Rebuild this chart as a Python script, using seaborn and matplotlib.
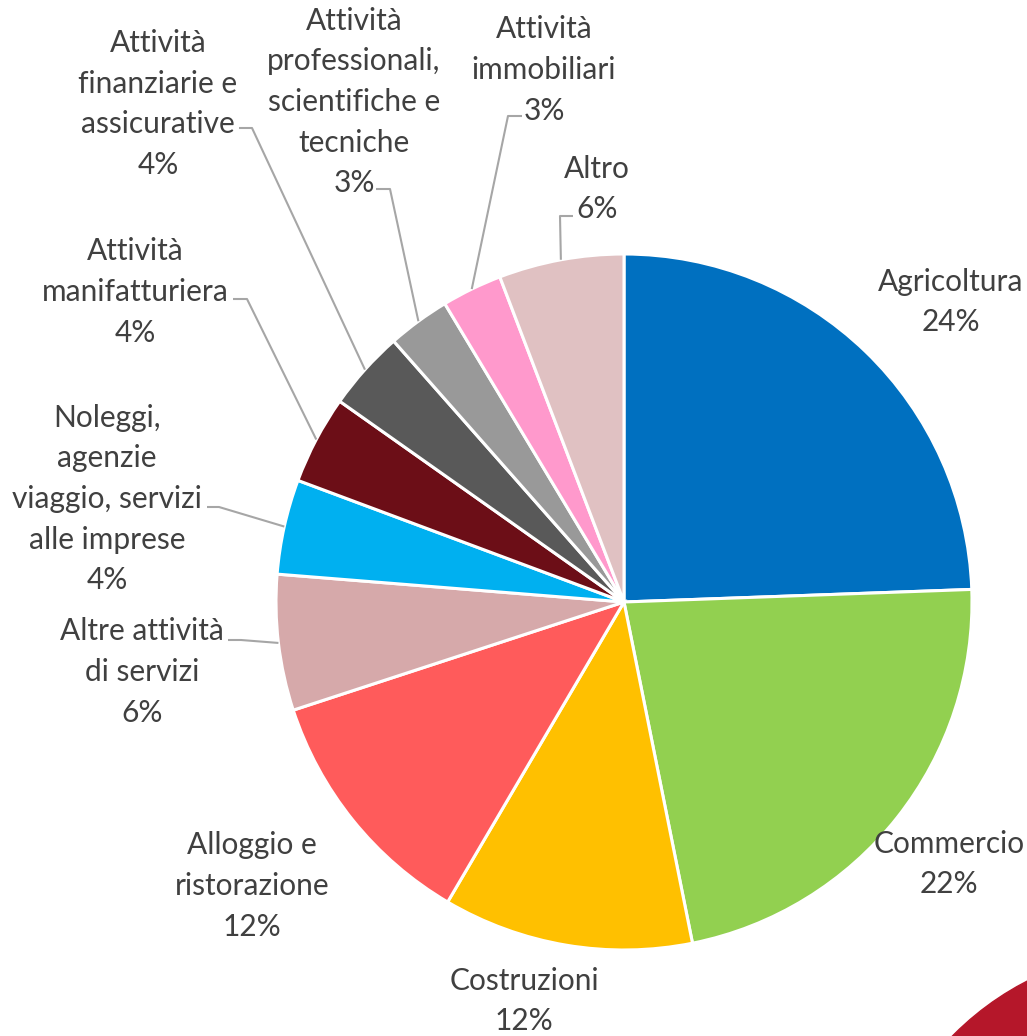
import numpy as np
import pandas as pd
import matplotlib.pyplot as plt
import seaborn as sns
from matplotlib.patches import Circle

sectors = ['Agricoltura', 'Commercio', 'Costruzioni', 'Alloggio e\nristorazione',
           'Altre attività\ndi servizi', 'Noleggi,\nagenzie\nviaggio, servizi\nalle imprese',
           'Attività\nmanifatturiera', 'Attività\nfinanziarie e\nassicurative',
           'Attività\nprofessionali,\nscientifiche e\ntecniche', 'Attività\nimmobiliari', 'Altro']
shares = [24.4, 22.4, 11.6, 11.5, 6.3, 4.4, 4.1, 3.7, 2.9, 2.8, 5.8]
colors = ['#0070C0', '#92D050', '#FFC000', '#FF5B5B', '#D6A9AA', '#00B0F0',
          '#6C0E17', '#595959', '#999999', '#FF99CC', '#E0C1C2']

df = pd.DataFrame({'settore': sectors, 'quota': shares})

sns.set_theme(style='white')
plt.rcParams['font.family'] = ['Lato', 'DejaVu Sans']

W, H = 1027, 1036
fig = plt.figure(figsize=(W / 100, H / 100), dpi=100)
ax = fig.add_axes([0, 0, 1, 1])

cx, cy, R = 624, H - 602, 348
wedges, _ = ax.pie(df['quota'], colors=sns.color_palette(colors), startangle=90,
                   counterclock=False, center=(cx, cy), radius=R,
                   wedgeprops=dict(edgecolor='white', linewidth=2.2), frame=True)
ax.set_xlim(0, W)
ax.set_ylim(0, H)
ax.axis('off')

# label centres (pixel coords from top) and leader line elbows (start_x, elbow_x, y)
label_pos = [(951, 302), (949, 864), (524, 1001), (252, 886), (142, 672), (107, 499),
             (135, 292), (158, 104), (354, 102), (544, 70), (597, 189)]
leaders = [None, None, None, None, (228, 241, 640), (207, 219, 507), (233, 247, 299),
           (239, 252, 128), (376, 390, 189), (522, 508, 116), (573, 560, 216)]

for w, name, q, (lx, ly), ld in zip(wedges, df['settore'], df['quota'], label_pos, leaders):
    ax.text(lx, H - ly, f"{name}\n{round(q)}%", ha='center', va='center',
            multialignment='center', fontsize=21.5, color='#404040', linespacing=1.55)
    if ld is not None:
        mid = np.deg2rad((w.theta1 + w.theta2) / 2)
        ex, ey = cx + R * np.cos(mid), cy + R * np.sin(mid)
        x0, x1, y0 = ld
        ax.plot([x0, x1, ex], [H - y0, H - y0, ey], color='#A6A6A6', lw=1.5,
                solid_capstyle='butt')

# red decoration in the corner
ax.add_patch(Circle((1160, H - 1240), 291, color='#B5172A', clip_on=True, zorder=0))

fig.savefig('out.png', dpi=100)
